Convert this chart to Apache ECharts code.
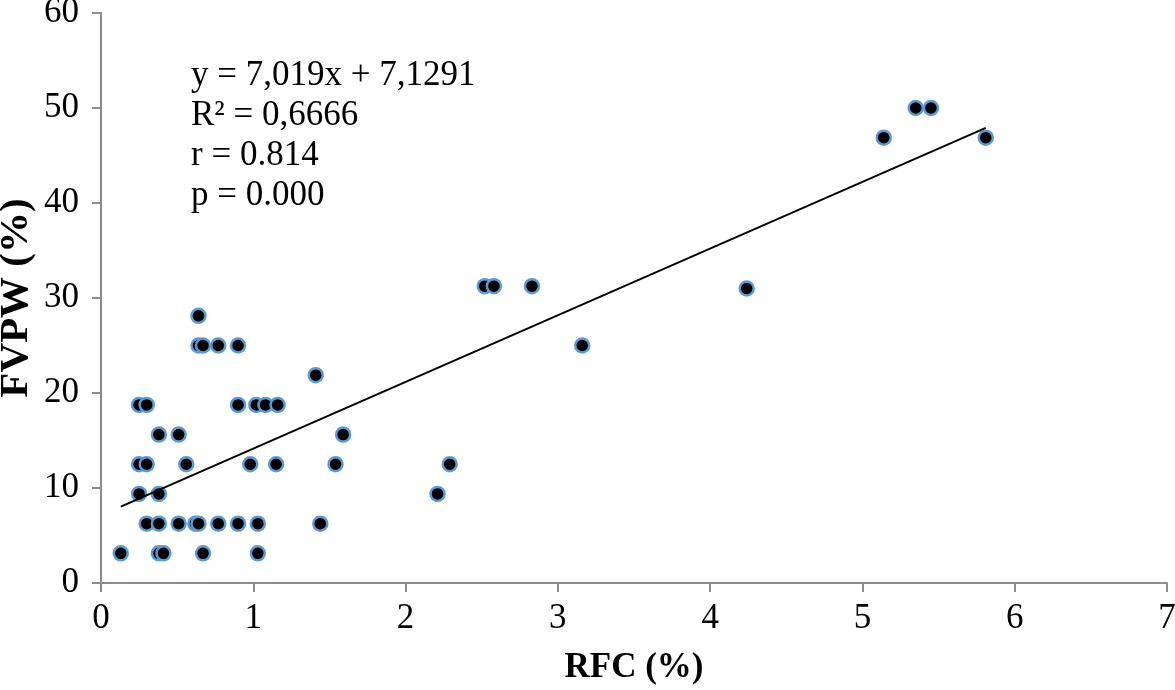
<!DOCTYPE html>
<html>
<head>
<meta charset="utf-8">
<script src="https://cdn.jsdelivr.net/npm/echarts@6/dist/echarts.min.js"></script>
<style>html,body{margin:0;padding:0;background:#fff}#c{width:1175px;height:690px}</style>
</head>
<body>
<div id="c"></div>
<script>
// RFC (%) values
const rfc = [
  0.13, 0.38, 0.41, 0.67, 1.03,
  0.30, 0.38, 0.51, 0.62, 0.64, 0.77, 0.90, 1.03, 1.44,
  0.25, 0.38, 2.21,
  0.25, 0.30, 0.56, 0.98, 1.15, 1.54, 2.29,
  0.38, 0.51, 1.59,
  0.25, 0.30, 0.90, 1.02, 1.08, 1.16,
  1.41,
  0.64, 0.67, 0.77, 0.90, 3.16,
  0.64,
  2.52, 2.58, 2.83, 4.24,
  5.14, 5.81,
  5.35, 5.45
];
// FVPW (%) values
const fvpw = [
  3.125, 3.125, 3.125, 3.125, 3.125,
  6.25, 6.25, 6.25, 6.25, 6.25, 6.25, 6.25, 6.25, 6.25,
  9.375, 9.375, 9.375,
  12.5, 12.5, 12.5, 12.5, 12.5, 12.5, 12.5,
  15.625, 15.625, 15.625,
  18.75, 18.75, 18.75, 18.75, 18.75, 18.75,
  21.875,
  25, 25, 25, 25, 25,
  28.125,
  31.25, 31.25, 31.25, 31.0,
  46.875, 46.875,
  50, 50
];
const slope = 7.019;
const intercept = 7.1291;
const annotationLines = ['y = 7,019x + 7,1291', 'R² = 0,6666', 'r = 0.814', 'p = 0.000'];
const xTitle = 'RFC (%)';
const yTitle = 'FVPW (%)';

const points = rfc.map((x, i) => [x, fvpw[i]]);
const xMin = Math.min(...rfc), xMax = Math.max(...rfc);
const trend = [[xMin, slope * xMin + intercept], [xMax, slope * xMax + intercept]];

const font = '"Liberation Serif", "Times New Roman", serif';
const axisColor = '#8c8c8c';
const chart = echarts.init(document.getElementById('c'));
chart.setOption({
  animation: false,
  backgroundColor: '#fff',
  grid: { left: 101, right: 8, top: 13, bottom: 107, containLabel: false, outerBoundsMode: 'none' },
  xAxis: {
    type: 'value', min: 0, max: 7, interval: 1,
    name: xTitle, nameLocation: 'middle', nameGap: 67, nameMoveOverlap: false,
    nameTextStyle: { fontFamily: font, fontSize: 35, fontWeight: 'bold', color: '#000' },
    axisLine: { lineStyle: { color: axisColor, width: 2 } },
    axisTick: { show: true, inside: false, length: 9, lineStyle: { color: axisColor, width: 2 } },
    axisLabel: { fontFamily: font, fontSize: 35, color: '#000', margin: 18 },
    splitLine: { show: false }
  },
  yAxis: {
    type: 'value', min: 0, max: 60, interval: 10,
    name: yTitle, nameLocation: 'middle', nameGap: 64, nameRotate: 90, nameMoveOverlap: false,
    nameTextStyle: { fontFamily: font, fontSize: 41, fontWeight: 'bold', color: '#000' },
    axisLine: { show: true, lineStyle: { color: axisColor, width: 2 } },
    axisTick: { show: true, inside: false, length: 9, lineStyle: { color: axisColor, width: 2 } },
    axisLabel: { fontFamily: font, fontSize: 35, color: '#000', margin: 22 },
    splitLine: { show: false }
  },
  graphic: annotationLines.map((t, i) => ({
    type: 'text', left: 191, top: 58 + i * 40,
    style: { text: t, font: '35px ' + font, fill: '#000' }
  })),
  series: [
    {
      type: 'line', data: trend, symbol: 'none',
      lineStyle: { color: '#000', width: 2 }, z: 3
    },
    {
      type: 'scatter', data: points, symbol: 'circle', symbolSize: 14,
      itemStyle: { color: '#000', borderColor: '#5B9BD5', borderWidth: 2.5, opacity: 1 }, z: 2
    }
  ]
});
</script>
</body>
</html>
